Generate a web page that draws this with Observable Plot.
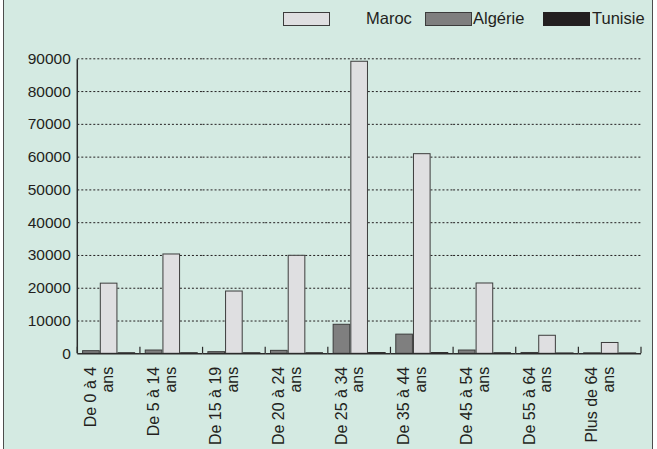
<!DOCTYPE html>
<html>
<head>
<meta charset="utf-8">
<script src="https://cdn.jsdelivr.net/npm/d3@7"></script>
<script src="https://cdn.jsdelivr.net/npm/@observablehq/plot@0.6"></script>
<style>
  body { margin: 0; background: #ffffff; font-family: "Liberation Sans", Arial, sans-serif; }
  #frame { position: absolute; left: 3px; top: -4px; width: 648px; height: 460px; border: 1.5px solid #4d4d4d; background: #d4eae2; }
  #legend { position: absolute; left: 0; top: 0; width: 657px; height: 36px; font-size: 16.5px; color: #231f20; }
  #legend .sw { position: absolute; top: 11.5px; width: 45px; height: 12px; border: 1px solid #3a3a3a; }
  #legend .lb { position: absolute; top: 8.5px; line-height: 19px; }
  #chart { position: absolute; left: 0; top: 36px; }
</style>
</head>
<body>
<div id="frame"></div>
<div id="legend"></div>
<div id="chart"></div>
<script>
const categories = ["De 0 à 4 ans", "De 5 à 14 ans", "De 15 à 19 ans", "De 20 à 24 ans", "De 25 à 34 ans", "De 35 à 44 ans", "De 45 à 54 ans", "De 55 à 64 ans", "Plus de 64 ans"];
const categoryLabels = ["De 0 à 4\nans", "De 5 à 14\nans", "De 15 à 19\nans", "De 20 à 24\nans", "De 25 à 34\nans", "De 35 à 44\nans", "De 45 à 54\nans", "De 55 à 64\nans", "Plus de 64\nans"];
const seriesOrder = ["Algérie", "Maroc", "Tunisie"];
const maroc   = [21400, 30300, 19000, 29900, 89100, 60900, 21450, 5500, 3300];
const algerie = [800, 1000, 500, 900, 8850, 5850, 1000, 250, 150];
const tunisie = [150, 150, 150, 150, 200, 200, 150, 100, 100];
const yTicks = [0, 10000, 20000, 30000, 40000, 50000, 60000, 70000, 80000, 90000];

const seriesStyle = {
  "Maroc":   {fill: "#dfdfe1", stroke: "#3c3c3c"},
  "Algérie": {fill: "#7f7f7f", stroke: "#3c3c3c"},
  "Tunisie": {fill: "#231f20", stroke: "#231f20"}
};
const legendItems = [
  {label: "Maroc",   swLeft: 283, lbLeft: 366},
  {label: "Algérie", swLeft: 425, lbLeft: 473},
  {label: "Tunisie", swLeft: 543, lbLeft: 592}
];

const values = {"Maroc": maroc, "Algérie": algerie, "Tunisie": tunisie};
const rows = [];
categories.forEach((c, i) => {
  seriesOrder.forEach(s => rows.push({cat: c, series: s, value: values[s][i]}));
});

// legend
const legend = document.getElementById("legend");
for (const it of legendItems) {
  const sw = document.createElement("div");
  sw.className = "sw";
  sw.style.left = it.swLeft + "px";
  sw.style.background = seriesStyle[it.label].fill;
  sw.style.borderColor = seriesStyle[it.label].stroke;
  legend.appendChild(sw);
  const lb = document.createElement("div");
  lb.className = "lb";
  lb.style.left = it.lbLeft + "px";
  lb.textContent = it.label;
  legend.appendChild(lb);
}

const plot = Plot.plot({
  width: 657,
  height: 413,
  marginLeft: 77.3,
  marginRight: 16,
  marginTop: 22.3,
  marginBottom: 95.7,
  style: {background: "transparent", fontFamily: "Liberation Sans, Arial, sans-serif", color: "#231f20"},
  fx: {domain: categories, paddingInner: 0, paddingOuter: 0, round: false, axis: null, label: null},
  x: {domain: seriesOrder, paddingInner: 0.06, paddingOuter: 0.3, round: false, axis: null, label: null},
  y: {domain: [0, 90000], ticks: yTicks, label: null, axis: null},
  marks: [
    Plot.ruleY(yTicks.filter(d => d > 0), {stroke: "#231f20", strokeWidth: 1, strokeDasharray: "2,2"}),
    ...seriesOrder.map(s => Plot.barY(rows.filter(r => r.series === s), {
      fx: "cat", x: "series", y: "value",
      fill: seriesStyle[s].fill, stroke: seriesStyle[s].stroke, strokeWidth: 1
    })),
    Plot.ruleY([0], {stroke: "#2b2b2b", strokeWidth: 1.5}),
    Plot.axisY(yTicks, {tickSize: 0, tickPadding: 7, fontSize: 15.5, tickFormat: d => String(d), fill: "#231f20"}),
    Plot.text(categories, {
      fx: d => d,
      text: (d, i) => categoryLabels[i],
      frameAnchor: "bottom",
      rotate: -90,
      textAnchor: "end",
      lineAnchor: "middle",
      lineHeight: 1.05,
      fontSize: 16,
      fill: "#231f20",
      dx: -10,
      dy: 13
    })
  ]
});
document.getElementById("chart").appendChild(plot);

// category boundary ticks and vertical axis line, placed with the plot's own scales
const fxs = plot.scale("fx");
const ys = plot.scale("y");
const svg = d3.select(plot);
const bw = fxs.bandwidth;
const edges = categories.map(c => fxs.apply(c)).concat([fxs.apply(categories[categories.length - 1]) + bw]);
const y0 = ys.apply(0);
const g = svg.append("g").attr("stroke", "#2b2b2b");
g.selectAll("line.edge").data(edges).join("line")
  .attr("x1", d => d).attr("x2", d => d)
  .attr("y1", y0).attr("y2", y0 - 6.5).attr("stroke-width", 1.2);
g.append("line")
  .attr("x1", edges[0]).attr("x2", edges[0])
  .attr("y1", ys.apply(90000) + 1).attr("y2", y0)
  .attr("stroke-width", 1.5);
</script>
</body>
</html>
